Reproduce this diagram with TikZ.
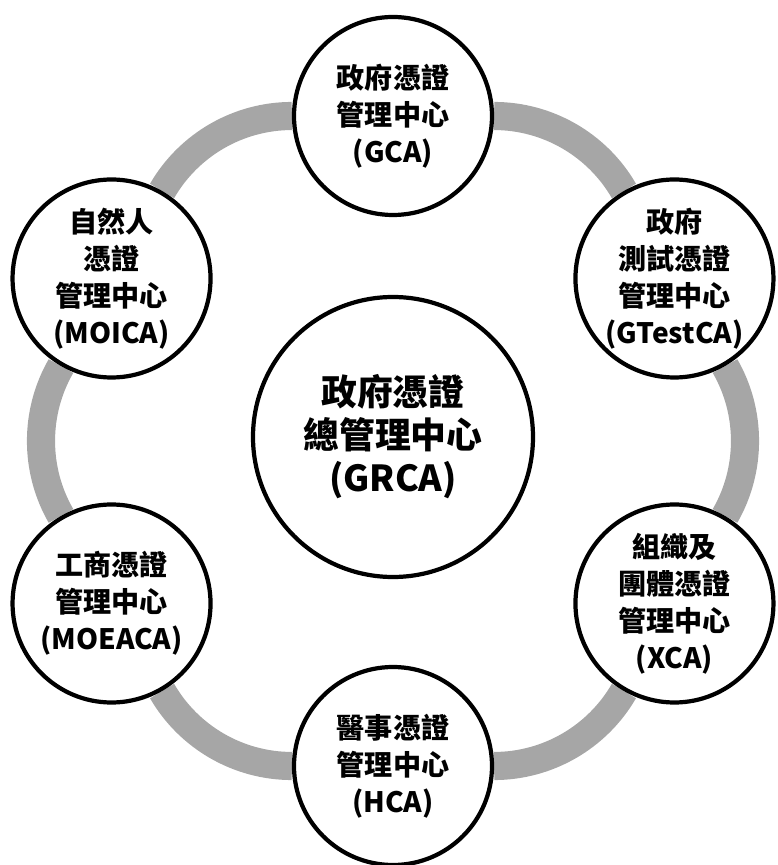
\documentclass[tikz,border=0pt]{standalone}
\usepackage{fontspec}
\setmainfont{Noto Sans CJK TC}
\usepackage{tikz}
\usetikzlibrary{positioning,backgrounds}
\definecolor{ringgray}{HTML}{A6A6A6}

\begin{document}
\begin{tikzpicture}[
    every node/.style={align=center},
    canode/.style={circle, draw=black, fill=white, line width=3pt, minimum size=4.95cm, inner sep=0pt,
        font=\fontsize{20}{26.3}\selectfont\bfseries},
    rootnode/.style={circle, draw=black, fill=white, line width=3pt, minimum size=7.0cm, inner sep=0pt,
        font=\fontsize{25.5}{30.6}\selectfont\bfseries},
    ringline/.style={draw=ringgray, line width=20pt, bend left=30, looseness=0.912}
]
    \useasboundingbox (-9.825,-10.6) rectangle (9.6,11.025);

    % Root CA in the middle
    \node[rootnode] (GRCA) at (0, 0.1) {
        政府憑證\\
        總管理中心\\
        (GRCA)
    };

    % Subordinate CAs on the ring
    \node[canode] (GCA) at (90:8.125) {
        政府憑證\\
        管理中心\\
        (GCA)
    };

    \node[canode] (GTestCA) at (30:8.125) {
        政府\\
        測試憑證\\
        管理中心\\
        (GTestCA)
    };

    \node[canode] (XCA) at (-30:8.125) {
        組織及\\
        團體憑證\\
        管理中心\\
        (XCA)
    };

    \node[canode] (HCA) at (-90:8.125) {
        醫事憑證\\
        管理中心\\
        (HCA)
    };

    \node[canode] (MOEACA) at (210:8.125) {
        工商憑證\\
        管理中心\\
        (MOEACA)
    };

    \node[canode] (MOICA) at (150:8.125) {
        自然人\\
        憑證\\
        管理中心\\
        (MOICA)
    };

    % Gray ring behind the outer circles
    \begin{scope}[on background layer]
        \draw[ringline] (GCA) to (GTestCA);
        \draw[ringline] (GTestCA) to (XCA);
        \draw[ringline] (XCA) to (HCA);
        \draw[ringline] (HCA) to (MOEACA);
        \draw[ringline] (MOEACA) to (MOICA);
        \draw[ringline] (MOICA) to (GCA);
    \end{scope}
\end{tikzpicture}
\end{document}
